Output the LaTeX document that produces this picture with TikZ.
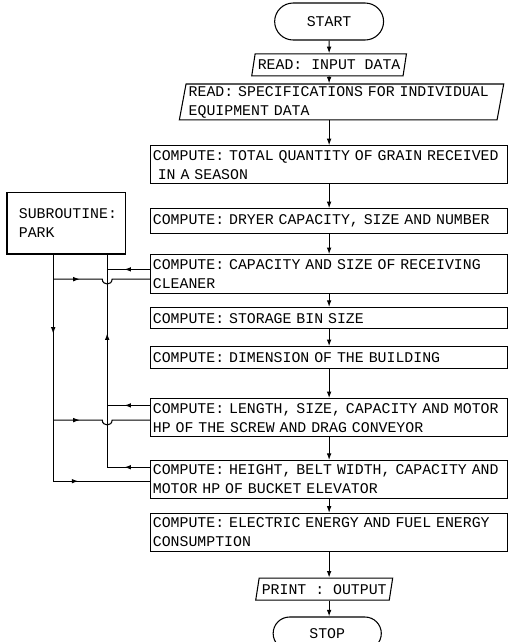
\documentclass[tikz,border=0pt]{standalone}
\usepackage{fontspec}
\setmonofont{Liberation Mono}
\usetikzlibrary{positioning,arrows.meta,shapes.geometric,shapes.misc,decorations.markings}

\begin{document}
\begin{tikzpicture}[
    font=\ttfamily\fontsize{11.2}{14.3}\selectfont,
    line width=0.8pt,
    block/.style={
        draw,
        line width=0.8pt,
        inner ysep=1pt
    },
    term/.style={block, rounded rectangle, minimum width=3.12cm, align=center},
    io/.style={block, trapezium, trapezium left angle=75, trapezium right angle=105,
        trapezium stretches body, inner xsep=2pt, align=left},
    task/.style={block, rectangle, minimum width=9.46cm, text width=9.34cm,
        inner xsep=0.06cm, align=left},
    sub/.style={block, rectangle, minimum width=3.13cm, minimum height=1.62cm,
        text width=2.5cm, align=left},
    arrow/.style={-{Latex[length=5pt,width=3.5pt]}},
    midarrow/.style={postaction={decorate},
        decoration={markings, mark=at position #1 with {\arrow{Latex[length=5pt,width=3.5pt]}}}}
]
\useasboundingbox (0,0) rectangle (13.46,-17.01);

% ============================================================
% MAIN COLUMN
% ============================================================
\node[term, minimum height=0.98cm] (start) at (8.72,-0.57) {START};
\node[io, minimum height=0.58cm, minimum width=3.95cm, below=0.34cm of start] (rdin) {READ: INPUT DATA};
\node[io, minimum height=0.95cm, trapezium left angle=79, trapezium right angle=101,
      text width=8.1cm, below=0.19cm of rdin, xshift=0.33cm] (rdspec)
      {READ: SPECIFICATIONS FOR INDIVIDUAL\\EQUIPMENT DATA};
\node[task, minimum height=1.0cm, below=0.66cm of rdspec, xshift=-0.33cm] (tot)
      {COMPUTE: TOTAL QUANTITY OF GRAIN RECEIVED\\\ IN A SEASON};
\node[task, minimum height=0.66cm, below=0.64cm of tot] (dryer)
      {COMPUTE: DRYER CAPACITY, SIZE AND NUMBER};
\node[task, minimum height=1.03cm, below=0.53cm of dryer] (clean)
      {COMPUTE: CAPACITY AND SIZE OF RECEIVING\\CLEANER};
\node[task, minimum height=0.56cm, below=0.34cm of clean] (bin)
      {COMPUTE: STORAGE BIN SIZE};
\node[task, minimum height=0.58cm, below=0.45cm of bin] (bldg)
      {COMPUTE: DIMENSION OF THE BUILDING};
\node[task, minimum height=1.0cm, below=0.77cm of bldg] (len)
      {COMPUTE: LENGTH, SIZE, CAPACITY AND MOTOR\\HP OF THE SCREW AND DRAG CONVEYOR};
\node[task, minimum height=1.0cm, below=0.61cm of len] (ht)
      {COMPUTE: HEIGHT, BELT WIDTH, CAPACITY AND\\MOTOR HP OF BUCKET ELEVATOR};
\node[task, minimum height=1.0cm, below=0.37cm of ht] (elec)
      {COMPUTE: ELECTRIC ENERGY AND FUEL ENERGY\\CONSUMPTION};
\node[io, minimum height=0.58cm, minimum width=3.42cm, below=0.69cm of elec, xshift=-0.13cm] (printout)
      {PRINT : OUTPUT};
\node[term, minimum height=0.87cm, minimum width=3.1cm, below=0.42cm of printout, xshift=0.08cm] (stop) {STOP};

\draw[arrow] (start) -- (rdin);
\draw[arrow] (rdin) -- (rdin |- rdspec.north);
\draw[arrow] (tot |- rdspec.south) -- (tot);
\foreach \a/\b in {tot/dryer, dryer/clean, clean/bin, bin/bldg, bldg/len, len/ht, ht/elec}
    \draw[arrow] (\a) -- (\b);
\draw[arrow] (elec) -- (elec |- printout.north);
\draw[arrow] (elec |- printout.south) -- (elec |- stop.north);

% ============================================================
% SUBROUTINE PARK
% ============================================================
\node[sub] (park) at (1.75,-5.92) {SUBROUTINE:\\PARK};

\coordinate (callbus) at ([xshift=1.09cm]park.south);
\coordinate (retbus) at ([xshift=-0.34cm]park.south);
\coordinate (hopL) at ([xshift=-0.13cm]callbus);
\coordinate (hopR) at ([xshift=0.13cm]callbus);

% calls to the subroutine
\foreach \tsk/\dy in {clean/0.40, len/0.19, ht/0.19} {
    \coordinate (\tsk-out) at ([yshift=-\dy cm]\tsk.north west);
    \draw[midarrow=0.6] (\tsk-out) -- (\tsk-out -| callbus);
}
\draw[midarrow=0.63] (callbus |- ht-out) -- (callbus);

% returns from the subroutine
\foreach \tsk/\dy in {clean/0.66, len/0.58, ht/0.56}
    \coordinate (\tsk-in) at ([yshift=-\dy cm]\tsk.north west);
\draw[midarrow=0.35] (retbus) -- (retbus |- ht-in);
\foreach \tsk in {clean, len}
    \draw[midarrow=0.26] (retbus |- \tsk-in) -- (hopL |- \tsk-in)
        .. controls +(0,-0.17) and +(0,-0.17) .. (hopR |- \tsk-in) -- (\tsk-in);
\draw[midarrow=0.26] (retbus |- ht-in) -- (ht-in);

\end{tikzpicture}
\end{document}
